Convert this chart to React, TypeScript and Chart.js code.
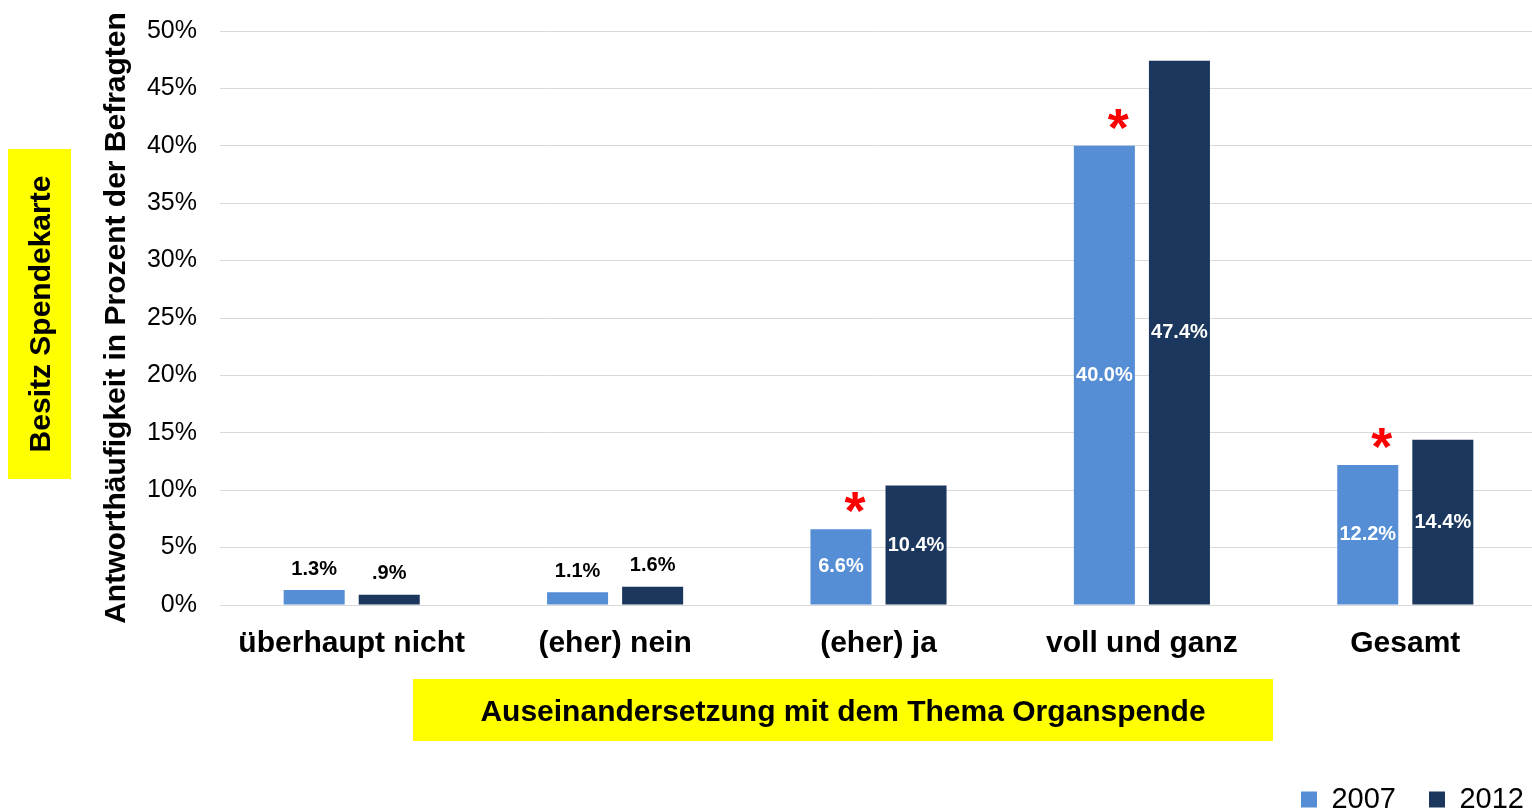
import React, { useEffect, useRef } from 'react';
import { Chart, registerables } from 'chart.js';

Chart.register(...registerables);

const categories = ['überhaupt nicht', '(eher) nein', '(eher) ja', 'voll und ganz', 'Gesamt'];
const seriesNames = ['2007', '2012'];
const values2007 = [1.3, 1.1, 6.6, 40.0, 12.2];
const values2012 = [0.9, 1.6, 10.4, 47.4, 14.4];
const significant2007 = [false, false, true, true, true];
const yMax = 50;
const yStep = 5;
const yAxisTitle = 'Antworthäufigkeit in Prozent der Befragten';
const xAxisTitle = 'Auseinandersetzung mit dem Thema Organspende';
const sideTitle = 'Besitz Spendekarte';

const FONT = "'Liberation Sans', Arial, Helvetica, sans-serif";
const COLOR_2007 = '#558ed5';
const COLOR_2012 = '#1b375e';
const YELLOW = '#ffff00';

const fmt = (v: number) => {
  const s = v.toFixed(1);
  return (s.startsWith('0.') ? s.slice(1) : s) + '%';
};

const decorPlugin = {
  id: 'decor',
  afterLayout(chart: any) {
    const lg = chart.legend;
    if (lg) {
      lg.top = chart.height - 58;
      lg.bottom = chart.height;
      lg.right = chart.width + 20;
      lg.width = lg.right - lg.left;
      lg.height = lg.bottom - lg.top;
    }
  },
  beforeDraw(chart: any) {
    const ctx = chart.ctx;
    ctx.save();
    // left yellow box
    ctx.fillStyle = YELLOW;
    ctx.fillRect(8, 149, 63, 330);
    ctx.fillStyle = '#000';
    ctx.font = `bold 30px ${FONT}`;
    ctx.textAlign = 'center';
    ctx.textBaseline = 'middle';
    ctx.save();
    ctx.translate(42, 314);
    ctx.rotate(-Math.PI / 2);
    ctx.fillText(sideTitle, 0, 0);
    ctx.restore();
    // bottom yellow box
    ctx.fillStyle = YELLOW;
    ctx.fillRect(413, 679, 860, 62);
    ctx.fillStyle = '#000';
    ctx.fillText(xAxisTitle, 843, 713);
    ctx.restore();
  },
  afterDatasetsDraw(chart: any) {
    const ctx = chart.ctx;
    ctx.save();
    ctx.textAlign = 'center';
    chart.data.datasets.forEach((ds: any, di: number) => {
      const meta = chart.getDatasetMeta(di);
      meta.data.forEach((bar: any, i: number) => {
        const v = ds.data[i] as number;
        ctx.font = `bold 20px ${FONT}`;
        ctx.textBaseline = 'middle';
        if (v >= 5) {
          ctx.fillStyle = '#ffffff';
          ctx.fillText(fmt(v), bar.x, (bar.y + bar.base) / 2);
        } else {
          ctx.fillStyle = '#000000';
          ctx.fillText(fmt(v), bar.x, bar.y - 21);
        }
        if (di === 0 && significant2007[i]) {
          ctx.fillStyle = '#ff0000';
          ctx.font = `bold 54px ${FONT}`;
          ctx.textBaseline = 'alphabetic';
          ctx.fillText('*', bar.x + 14, bar.y - 30 + 30);
        }
      });
    });
    ctx.restore();
  },
};

export default function App() {
  const ref = useRef<HTMLCanvasElement | null>(null);
  useEffect(() => {
    document.body.style.overflow = 'hidden';
    const canvas = ref.current;
    if (!canvas) return;
    const chart = new Chart(canvas, {
      type: 'bar',
      data: {
        labels: categories,
        datasets: [
          {
            label: seriesNames[0],
            data: values2007,
            backgroundColor: COLOR_2007,
            categoryPercentage: 0.57,
            barPercentage: 0.813,
          },
          {
            label: seriesNames[1],
            data: values2012,
            backgroundColor: COLOR_2012,
            categoryPercentage: 0.57,
            barPercentage: 0.813,
          },
        ],
      },
      options: {
        animation: false,
        responsive: true,
        maintainAspectRatio: false,
        layout: { padding: { left: 90, top: 31, right: 0, bottom: 0 } },
        plugins: {
          legend: {
            position: 'bottom',
            align: 'end',
            labels: {
              boxWidth: 16,
              boxHeight: 16,
              padding: 33,
              color: '#000',
              font: { family: FONT, size: 29 },
            },
          },
          tooltip: { enabled: false },
          title: { display: false },
        },
        scales: {
          x: {
            grid: { display: false, drawTicks: false },
            border: { display: false },
            ticks: {
              color: '#000',
              padding: 21,
              font: { family: FONT, size: 30, weight: 'bold' },
              maxRotation: 0,
            },
            afterFit: (s: any) => {
              s.height = 133;
            },
          },
          y: {
            min: 0,
            max: yMax,
            grid: { color: '#d9d9d9', lineWidth: 1, drawTicks: false },
            border: { display: false },
            ticks: {
              stepSize: yStep,
              color: '#000',
              padding: 23,
              font: { family: FONT, size: 25 },
              callback: (v: any) => `${v}%`,
            },
            title: {
              display: true,
              text: yAxisTitle,
              color: '#000',
              padding: { top: 9, bottom: 0 },
              font: { family: FONT, size: 30, weight: 'bold' },
            },
            afterFit: (s: any) => {
              s.width = 130;
              s.paddingTop = 0;
              s.paddingBottom = 0;
            },
          },
        },
      },
      plugins: [decorPlugin],
    });
    return () => chart.destroy();
  }, []);
  return (
    <div style={{ position: 'fixed', left: 0, top: 0, width: 1537, height: 810, background: '#fff' }}>
      <canvas ref={ref} />
    </div>
  );
}
